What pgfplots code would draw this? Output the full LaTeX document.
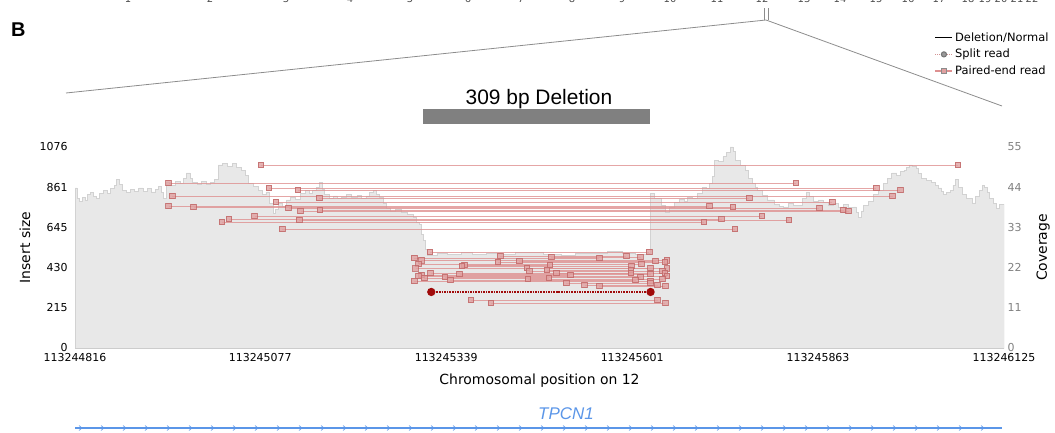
\documentclass[border=0pt]{standalone}
\usepackage{pgfplots}
\pgfplotsset{compat=1.18}
\usepackage{fontspec}
\setmainfont{DejaVu Sans}
\newfontfamily\arialf{Liberation Sans}
\definecolor{covfill}{HTML}{E8E8E8}
\definecolor{covedge}{HTML}{D2D2D2}
\definecolor{peline}{HTML}{DE9090}
\definecolor{pefill}{HTML}{E0A0A0}
\definecolor{pedraw}{HTML}{C06666}
\definecolor{srcol}{HTML}{A00A0A}
\definecolor{genecol}{HTML}{5B96E8}
\definecolor{zoomgray}{HTML}{8C8C8C}

\pgfplotsset{
  pe/.style={color=peline, line width=0.8bp, draw opacity=0.8,
    mark=square*, mark size=2.8bp,
    mark options={fill=pefill, draw=pedraw, fill opacity=0.8, draw opacity=0.8}},
}

\begin{document}
\begin{tikzpicture}
\begin{scope}[x=1bp,y=1bp]
\useasboundingbox (0,0) rectangle (1055,432);

% chromosome ideogram labels (cut at top edge, as in the source figure)
\foreach \xx/\lab in {128/1,210/2,286/3,350/4,410/5,468/6,521/7,572/8,622/9,670/10,717/11,762/12,804/13,840/14,876/15,908/16,939/17,968/18,985/19,1001/20,1017/21,1032/22}
  \node[anchor=base, inner sep=0pt, text=black!70, font=\fontsize{10}{10}\selectfont] at (\xx,429) {\lab};

% panel letter
\node[anchor=base west, inner sep=0pt, font=\arialf\bfseries\fontsize{20}{20}\selectfont] at (11,395) {B};

% zoom lines
\draw[zoomgray, line width=0.8bp] (66,339) -- (766,412) -- (1002,326);
\draw[zoomgray, line width=0.8bp] (764,412) -- (764,424) (768,412) -- (768,424);

% deletion bar
\fill[black!50] (423,308) rectangle (650,323);
\node[anchor=base, inner sep=0pt, font=\arialf\fontsize{21}{21}\selectfont] at (539,328) {309 bp Deletion};

% gene track
\draw[genecol, line width=1.2bp] (75,4) -- (1002,4);
\foreach \i in {0,...,41}
  \draw[genecol, line width=0.6bp] ({79+22*\i},6.5) -- ({82+22*\i},4) -- ({79+22*\i},1.5);
\node[anchor=base, inner sep=0pt, text=genecol, font=\arialf\itshape\fontsize{17}{17}\selectfont] at (566,13) {TPCN1};
\end{scope}

% coverage (right axis)
\begin{axis}[
  at={(75bp,84bp)}, anchor=south west, scale only axis,
  width=929bp, height=201bp,
  xmin=0, xmax=1309, ymin=0, ymax=55,
  axis x line=none,
  axis y line*=right,
  y axis line style={draw=none},
  major tick length=0pt,
  ytick={0,11,22,33,44,55},
  /pgf/number format/assume math mode=true,
  yticklabel style={font=\fontsize{11}{11}\selectfont, text=black!50},
  ylabel={Coverage},
  ylabel style={font=\fontsize{14}{14}\selectfont, at={(rel axis cs:1.042,0.5)}, anchor=center},
]
\addplot[const plot, fill=covfill, draw=covedge, line width=0.8bp] table {
x cov
0 43.8
3 41.0
6 40.0
10 41.2
14 40.3
18 41.9
22 42.6
26 41.5
30 40.8
35 42.4
40 43.0
45 42.2
50 43.6
55 44.5
59 46.0
63 44.8
67 43.2
72 42.6
78 43.5
84 42.8
90 43.8
96 42.9
102 43.6
108 42.7
113 43.5
118 44.2
122 42.5
125 41.0
129 45.4
135 44.6
141 45.5
149 45.1
153 46.3
157 47.9
162 46.4
166 45.4
172 44.9
178 45.6
185 44.8
191 45.3
197 46.1
202 50.1
208 50.6
215 49.8
222 50.4
228 49.5
234 48.7
240 47.2
245 45.1
252 44.2
259 43.2
264 42.0
269 42.7
274 39.5
279 36.9
283 38.0
287 39.7
292 38.8
298 40.5
304 41.2
310 40.6
318 42.4
325 43.0
330 42.2
335 43.2
340 44.0
344 45.4
348 43.5
352 41.9
358 41.0
364 41.6
370 40.8
375 41.3
382 42.0
390 41.2
398 41.8
404 40.9
410 41.6
415 42.5
420 43.2
425 42.0
429 41.3
434 39.5
439 38.3
445 37.5
452 37.9
460 37.2
468 36.5
477 35.6
481 34.5
485 33.7
488 31.0
491 29.5
494 27.0
497 25.4
510 26.0
525 25.7
545 26.2
560 25.6
580 25.9
601 25.7
620 26.2
640 26.1
660 25.6
686 25.4
705 25.9
730 25.8
750 26.3
771 26.0
790 25.7
807 26.0
811 42.4
816 40.9
821 41.0
826 39.0
832 37.2
838 38.5
845 39.9
852 40.6
858 40.0
863 41.3
870 40.8
877 42.2
884 44.0
889 43.6
894 45.1
898 47.0
901 51.4
906 51.0
913 52.3
918 53.5
923 55.0
927 53.8
931 51.4
937 50.0
944 48.7
949 46.5
954 45.1
958 44.0
962 43.2
968 41.8
976 40.5
985 39.4
992 38.8
998 38.6
1005 39.5
1012 38.9
1019 39.1
1025 41.0
1030 42.7
1035 41.5
1041 40.2
1047 40.5
1054 39.8
1061 38.9
1068 39.6
1076 38.6
1083 39.2
1090 38.4
1097 38.6
1101 37.0
1104 35.8
1108 37.5
1111 39.1
1118 40.2
1125 41.9
1132 43.2
1139 45.1
1145 46.5
1151 47.9
1158 47.2
1163 48.3
1168 48.7
1172 49.5
1175 50.1
1180 49.6
1185 49.2
1189 47.8
1193 46.5
1200 45.8
1207 45.4
1212 44.5
1217 43.8
1221 42.8
1224 41.9
1228 42.6
1233 43.2
1237 44.5
1241 46.0
1245 44.0
1250 41.9
1256 40.8
1264 39.7
1269 41.5
1274 43.2
1278 44.4
1281 44.0
1285 42.5
1289 41.0
1294 39.5
1298 38.3
1303 39.3
1309 39.1
} \closedcycle;
\end{axis}

% insert size (left axis) with reads
\begin{axis}[
  at={(75bp,84bp)}, anchor=south west, scale only axis,
  width=929bp, height=201bp,
  xmin=0, xmax=1309, ymin=0, ymax=1076,
  axis y line*=left, axis x line*=bottom,
  y axis line style={draw=none},
  x axis line style={draw=black!20, -},
  major tick length=0pt,
  clip=false,
  xtick={0,261,523,785,1047,1309},
  xticklabels={113244816,113245077,113245339,113245601,113245863,113246125},
  ytick={0,215,430,645,861,1076},
  /pgf/number format/assume math mode=true,
  /pgf/number format/1000 sep={},
  ticklabel style={font=\fontsize{11}{11}\selectfont},
  yticklabel style={xshift=-4bp},
  xticklabel style={yshift=-2bp},
  xlabel={Chromosomal position on 12},
  xlabel style={font=\fontsize{14}{14}\selectfont, at={(rel axis cs:0.5,-0.16)}, anchor=center},
  ylabel={Insert size},
  ylabel style={font=\fontsize{14}{14}\selectfont, at={(rel axis cs:-0.054,0.5)}, anchor=center},
  legend style={at={(0.922,1.59)}, anchor=north west, draw=none, fill=none,
    font=\fontsize{11.5}{13}\selectfont, row sep=2.5bp},
  legend cell align=left,
]
\addlegendimage{black, line width=1.4bp}
\addlegendentry{Deletion/Normal}
\addlegendimage{densely dotted, color=pedraw!70, line width=1bp, mark=*, mark size=2.6bp,
  mark options={solid, fill=black!40, draw=black!55}}
\addlegendentry{Split read}
\addlegendimage{color=peline, line width=1.4bp, mark=square*, mark size=2.6bp,
  mark options={fill=pefill, draw=black!45}}
\addlegendentry{Paired-end read}

% paired-end reads outside the deletion
\addplot[pe] coordinates {(262,980) (1244,980)};
\addplot[pe] coordinates {(132,883) (1016,883)};
\addplot[pe] coordinates {(273,856) (1129,856)};
\addplot[pe] coordinates {(314,846) (1163,846)};
\addplot[pe] coordinates {(137,814) (1152,814)};
\addplot[pe] coordinates {(344,803) (950,803)};
\addplot[pe] coordinates {(283,782) (1067,782)};
\addplot[pe] coordinates {(132,760) (894,760)};
\addplot[pe] coordinates {(167,755) (927,755)};
\addplot[pe] coordinates {(301,749) (1049,749)};
\addplot[pe] coordinates {(345,739) (1083,739)};
\addplot[pe] coordinates {(318,733) (1090,733)};
\addplot[pe] coordinates {(253,707) (968,707)};
\addplot[pe] coordinates {(217,691) (911,691)};
\addplot[pe] coordinates {(316,685) (1006,685)};
\addplot[pe] coordinates {(207,674) (886,674)};
\addplot[pe] coordinates {(292,637) (930,637)};
% paired-end reads around the deletion
\addplot[pe] coordinates {(500,514) (809,514)};
\addplot[pe] coordinates {(599,492) (777,492)};
\addplot[pe] coordinates {(671,487) (797,487)};
\addplot[pe] coordinates {(478,482) (739,482)};
\addplot[pe] coordinates {(488,470) (834,470)};
\addplot[pe] coordinates {(626,466) (818,466)};
\addplot[pe] coordinates {(596,460) (831,460)};
\addplot[pe] coordinates {(484,450) (798,450)};
\addplot[pe] coordinates {(549,444) (669,444)};
\addplot[pe] coordinates {(545,439) (784,439)};
\addplot[pe] coordinates {(637,428) (811,428)};
\addplot[pe] coordinates {(480,425) (834,425)};
\addplot[pe] coordinates {(665,418) (783,418)};
\addplot[pe] coordinates {(640,412) (828,412)};
\addplot[pe] coordinates {(678,401) (831,401)};
\addplot[pe] coordinates {(501,401) (783,401)};
\addplot[pe] coordinates {(542,396) (811,396)};
\addplot[pe] coordinates {(488,391) (698,391)};
\addplot[pe] coordinates {(484,385) (834,385)};
\addplot[pe] coordinates {(521,380) (797,380)};
\addplot[pe] coordinates {(492,375) (668,375)};
\addplot[pe] coordinates {(638,369) (828,369)};
\addplot[pe] coordinates {(529,364) (790,364)};
\addplot[pe] coordinates {(478,359) (811,359)};
\addplot[pe] coordinates {(692,348) (811,348)};
\addplot[pe] coordinates {(718,337) (821,337)};
\addplot[pe] coordinates {(739,332) (832,332)};
\addplot[pe] coordinates {(558,257) (821,257)};
\addplot[pe] coordinates {(586,241) (832,241)};
% split read
\addplot[color=srcol, line width=1.6bp, densely dotted, mark=*, mark size=3.3bp,
  mark options={solid, fill=srcol}] coordinates {(502,300) (811,300)};
\end{axis}
\end{tikzpicture}
\end{document}
